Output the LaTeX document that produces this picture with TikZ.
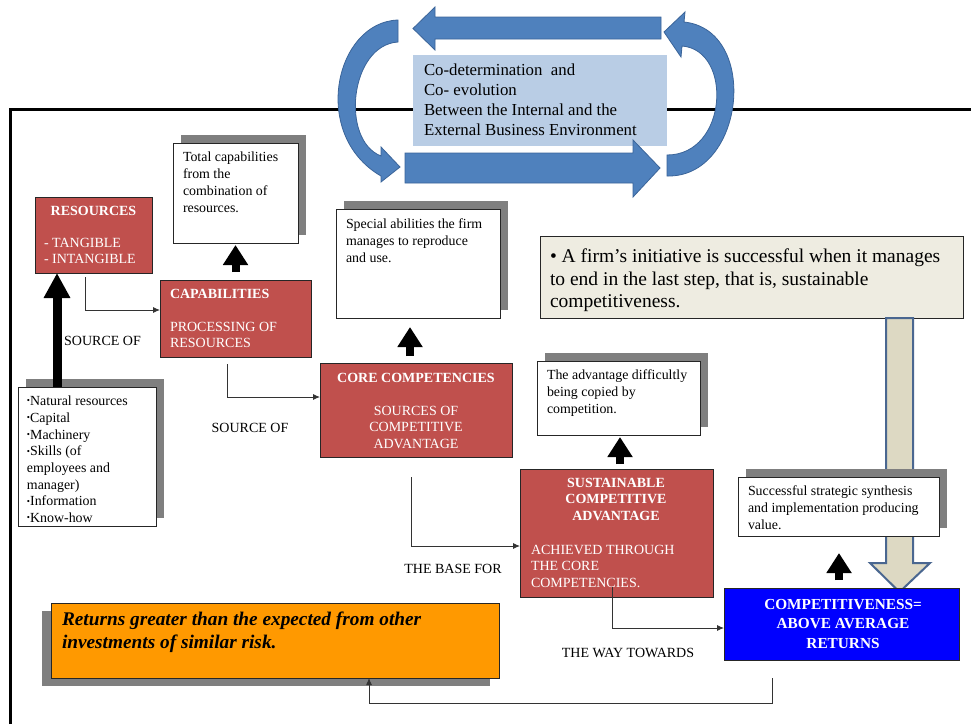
\documentclass[tikz,border=0pt]{standalone}
\usepackage{fontspec}
\setmainfont{Liberation Serif}
\usetikzlibrary{arrows.meta,calc,shadows}

\definecolor{redfill}{HTML}{C0504D}
\definecolor{topblue}{HTML}{B9CDE5}
\definecolor{arrowblue}{HTML}{4F81BD}
\definecolor{arrowedge}{HTML}{3A6499}
\definecolor{shadowgray}{HTML}{7F7F7F}
\definecolor{initfill}{HTML}{EEECE1}
\definecolor{orangefill}{HTML}{FF9900}
\definecolor{greyarrow}{HTML}{DDD9C3}
\definecolor{greyedge}{HTML}{4A6790}
\definecolor{linegray}{HTML}{333333}

\newcommand\blt{\raisebox{0.12em}{\fontsize{9}{9}\selectfont •}}

\begin{document}
\begin{tikzpicture}[x=1pt,y=-1pt,
  box/.style={rectangle, inner sep=0pt, outer sep=0pt, anchor=north west, draw=black!85, line width=0.8pt},
  redbox/.style={box, fill=redfill},
  whitebox/.style={box, fill=white, general shadow={fill=shadowgray, shadow xshift=8pt, shadow yshift=8pt}},
  txt/.style={inner sep=0pt, outer sep=0pt, anchor=north west, align=left},
  ttl/.style={inner sep=0pt, outer sep=0pt, anchor=north, align=center, text=white, font=\bfseries\fontsize{14}{16.5}\selectfont},
  rtext/.style={text=white, font=\fontsize{14}{16.7}\selectfont},
  stext/.style={font=\fontsize{13.9}{17}\selectfont},
  lbl/.style={inner sep=0pt, font=\fontsize{14}{15}\selectfont},
  conn/.style={draw=linegray, line width=0.9pt, -{Latex[length=7pt,width=6pt]}},
  thickup/.style={draw=black, line width=8pt, -{Triangle[length=20pt,width=24pt]}},
  bigup/.style={draw=black, line width=9pt, -{Triangle[length=25pt,width=25pt]}},
  curve/.style={fill=arrowblue, draw=arrowedge, line width=0.8pt}
]
\useasboundingbox (0,0) rectangle (971,724);
\fill[white] (0,0) rectangle (971,724);

% frame of the internal environment
\draw[line width=3pt, line join=miter] (10,724) -- (10,109) -- (971,109);

% external environment box
\node[box, fill=topblue, draw=none, minimum width=254pt, minimum height=91pt] (env) at (413,55) {};
\node[txt, font=\fontsize{16.8}{20}\selectfont] (env-t) at (424,64)
  {Co-determination\ \ and\\Co- evolution\\Between the Internal and the\\External Business Environment};

% straight block arrows
\filldraw[curve] (661,17) -- (435,17) -- (435,7) -- (413,28.5) -- (435,50) -- (435,39) -- (661,39) -- cycle;
\filldraw[curve] (405,153) -- (633,153) -- (633,140) -- (660,168) -- (633,197) -- (633,183) -- (405,183) -- cycle;

% curved block arrows
\filldraw[curve] (398,20) .. controls (335,22) and (310,135) .. (381,176)
  -- (381,182) -- (400,167) -- (381,147) -- (381,156)
  .. controls (340,140) and (350,45) .. (398,42) -- cycle;
\filldraw[curve] (667,176) .. controls (745,178) and (760,30) .. (684,22)
  -- (685,12) -- (664,32) -- (681,57) -- (682,46)
  .. controls (733,50) and (728,155) .. (667,155) -- cycle;

% resources
\node[redbox, minimum width=117pt, minimum height=76pt] (res) at (35,197) {};
\node[ttl] (res-h) at (93.5,206) {RESOURCES};
\node[txt, rtext] (res-b) at (44,238) {- TANGIBLE\\- INTANGIBLE};

% capabilities
\node[redbox, minimum width=151pt, minimum height=77pt] (cap) at (160,280) {};
\node[txt, text=white, font=\bfseries\fontsize{14}{16.5}\selectfont] (cap-h) at (170,289) {CAPABILITIES};
\node[txt, rtext] (cap-b) at (170,322) {PROCESSING OF\\RESOURCES};

\node[whitebox, minimum width=125pt, minimum height=100pt] (tot) at (173,143) {};
\node[txt, stext] (tot-t) at (183,152) {Total capabilities\\from the\\combination of\\resources.};

% list of resources
\node[whitebox, minimum width=138pt, minimum height=139pt] (nat) at (18,387) {};
\node[txt, font=\fontsize{13.9}{16.7}\selectfont] (nat-t) at (27,396)
  {\blt Natural resources\\\blt Capital\\\blt Machinery\\\blt Skills (of\\employees and\\manager)\\\blt Information\\\blt Know-how};

% core competencies
\node[redbox, minimum width=192pt, minimum height=94pt] (core) at (320,363) {};
\node[ttl] (core-h) at (416,373) {CORE COMPETENCIES};
\node[ttl, font=\fontsize{14}{16.7}\selectfont] (core-b) at (416,406) {SOURCES OF\\COMPETITIVE\\ADVANTAGE};

\node[whitebox, minimum width=164pt, minimum height=109pt] (spec) at (336,209) {};
\node[txt, stext] (spec-t) at (346,219) {Special abilities the firm\\manages to reproduce\\and use.};

% sustainable competitive advantage
\node[redbox, minimum width=193pt, minimum height=128pt] (sust) at (520,469) {};
\node[ttl] (sust-h) at (616,478) {SUSTAINABLE\\COMPETITIVE\\ADVANTAGE};
\node[txt, rtext] (sust-b) at (531,545) {ACHIEVED THROUGH\\THE CORE\\COMPETENCIES.};

\node[whitebox, minimum width=163pt, minimum height=74pt] (adv) at (537,361) {};
\node[txt, stext] (adv-t) at (547,370) {The advantage difficultly\\being copied by\\competition.};

% initiative note and its arrow
\node[box, fill=initfill, minimum width=423pt, minimum height=82pt] (init) at (540,236) {};
\node[txt, font=\fontsize{19.5}{22.5}\selectfont] (init-t) at (550,249)
  {• A firm’s initiative is successful when it manages\\to end in the last step, that is, sustainable\\competitiveness.};
\filldraw[fill=greyarrow, draw=greyedge, line width=2pt, line join=miter]
  (886,318) -- (913,318) -- (913,563) -- (930,563) -- (899.5,592) -- (870,563) -- (886,563) -- cycle;

\node[whitebox, minimum width=201pt, minimum height=59pt] (succ) at (738,477) {};
\node[txt, font=\fontsize{13.9}{16.7}\selectfont] (succ-t) at (748,486)
  {Successful strategic synthesis\\and implementation producing\\value.};

% competitiveness
\node[box, fill=blue, minimum width=235pt, minimum height=72pt] (comp) at (724,588) {};
\node[ttl, font=\bfseries\fontsize{15.3}{19.5}\selectfont] (comp-t) at (843,599) {COMPETITIVENESS=\\ABOVE AVERAGE\\RETURNS};

% above average returns
\node[box, fill=orangefill, minimum width=448pt, minimum height=75pt,
  general shadow={fill=shadowgray, shadow xshift=-9pt, shadow yshift=-8pt}] (org) at (51,603) {};
\node[txt, font=\bfseries\itshape\fontsize{19.3}{23}\selectfont] (org-t) at (62,612)
  {Returns greater than the expected from other\\investments of similar risk.};

% connector labels
\node[lbl] (l1) at (102.5,341) {SOURCE OF};
\node[lbl] (l2) at (250,428) {SOURCE OF};
\node[lbl] (l3) at (453,569) {THE BASE FOR};
\node[lbl] (l4) at (628,653) {THE WAY TOWARDS};

% thin connectors
\draw[conn] ([xshift=-8.5pt,yshift=-4pt]res.south) |- ([yshift=8.5pt]cap.west);
\draw[conn] ([xshift=-8.5pt,yshift=-7pt]cap.south) |- ([yshift=13pt]core.west);
\draw[conn] ([xshift=-5pt,yshift=-20pt]core.south) |- ([yshift=-13pt]sust.west);
\draw[conn] ([xshift=-4.5pt,yshift=10pt]sust.south) |- ([yshift=-4pt]comp.west);
\coordinate (r1) at ([xshift=-69.5pt,yshift=-43pt]comp.south);
\draw[conn] ([xshift=-69.5pt,yshift=-18pt]comp.south) -- (r1) -| ([xshift=94pt]org.south);

% thick upward arrows
\draw[thickup, shorten >=2pt] ([yshift=8pt]cap.north) -- (tot.south);
\coordinate (k2) at ([xshift=-6pt,yshift=7pt]core.north);
\draw[thickup, shorten >=9pt] (k2) -- (k2 |- spec.south);
\coordinate (k3) at ([xshift=3.5pt,yshift=5pt]sust.north);
\draw[thickup, shorten >=2pt] (k3) -- (k3 |- adv.south);
\coordinate (k4) at ([xshift=-2.5pt,yshift=8pt]comp.north);
\draw[thickup, shorten >=17pt] (k4) -- (k4 |- succ.south);
\coordinate (k5) at ([xshift=-30pt]nat.north);
\draw[bigup] (k5) -- (k5 |- res.south);
\end{tikzpicture}
\end{document}
